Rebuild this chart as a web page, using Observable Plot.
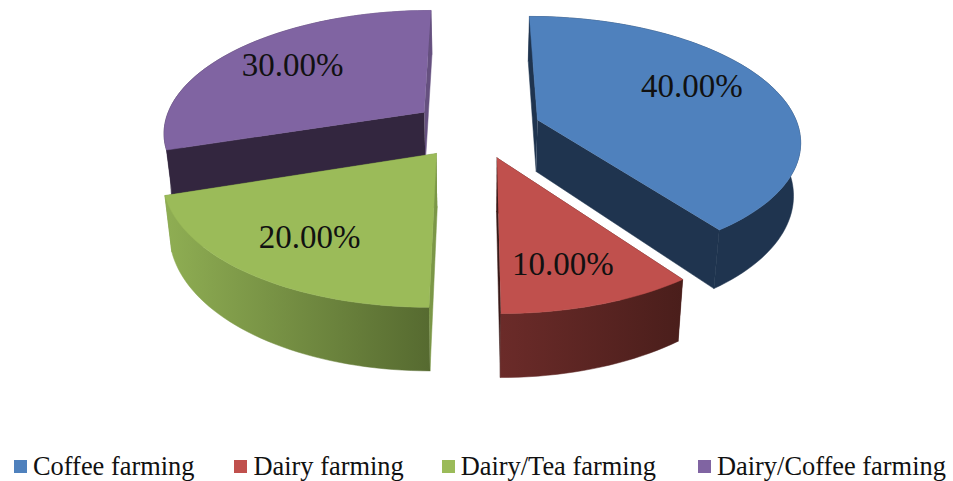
<!DOCTYPE html>
<html><head><meta charset="utf-8">
<script src="https://cdn.jsdelivr.net/npm/d3@7"></script>
<script src="https://cdn.jsdelivr.net/npm/@observablehq/plot@0.6"></script>
<style>
html,body{margin:0;padding:0;background:#fff;overflow:hidden}
#legend{display:flex;padding-left:14px;height:30px;align-items:center;font:26.4px "Liberation Serif",serif;color:#111;white-space:nowrap}
#legend span.item{display:inline-flex;align-items:center;gap:6px}
#legend i{display:inline-block;width:13px;height:13px}
</style></head><body>
<div id="chart"></div><div id="legend"></div>
<script>
const categories = ["Coffee farming", "Dairy farming", "Dairy/Tea farming", "Dairy/Coffee farming"];
const shares = [40, 10, 20, 30];
const colors = ["#4f81bd", "#c0504d", "#9bbb59", "#8064a2"];
const startWallColors = ["#1f344f", "#4a1d1b", "#7b9747", "#33263f"];
const endWallColors = ["#1f344f", "#3a1a18", "#7b9747", "#65507f"];
const wallGradients = [["#1f344f", "#1f344f"], ["#6b2b29", "#4a1e1b"], ["#8fae53", "#566a30"], ["#33263f", "#65507f"]];
const labelRadius = [0.70, 0.75, 0.72, 0.70];
const labelAngle = [65, 164, 215, 307];
const legendGaps = [0, 40, 38, 42];

const W = 953, H = 451;
const cx = 475.5, cy = 128.5, a = 261.5, b = 122, k = 0.153, depth = 52, explodeX = 0.25, explodeY = 0.24, shrink = 0.022;
const project = (X, Y, drop = 0) => { const s = 1 / (1 + k * Y); return {x: cx + a * X * s * (1 - shrink * drop), y: cy - b * Y * s + depth * s * drop}; };

const arcs = d3.pie().sort(null).startAngle(0).endAngle(2 * Math.PI)(shares);
const slices = arcs.map((d, i) => {
  const mid = (d.startAngle + d.endAngle) / 2;
  const ox = explodeX * Math.sin(mid), oy = explodeY * Math.cos(mid);
  const n = Math.round((d.endAngle - d.startAngle) / 0.03);
  const angles = d3.range(n + 1).map(j => d.startAngle + (d.endAngle - d.startAngle) * j / n);
  const rim = (drop) => angles.map(t => project(ox + Math.sin(t), oy + Math.cos(t), drop));
  const center = (drop) => project(ox, oy, drop);
  const edge = (t, drop) => project(ox + Math.sin(t), oy + Math.cos(t), drop);
  const la = labelAngle[i] * Math.PI / 180;
  return {
    i, mid,
    top: [center(0), ...rim(0)],
    arcWall: [...rim(0), ...rim(1).reverse()],
    startWall: [center(0), edge(d.startAngle, 0), edge(d.startAngle, 1), center(1)],
    endWall: [center(0), edge(d.endAngle, 0), edge(d.endAngle, 1), center(1)],
    startFaces: Math.sin(d.startAngle) < -1e-9,
    endFaces: Math.sin(d.endAngle) > 1e-9,
    label: project(ox + labelRadius[i] * Math.sin(la), oy + labelRadius[i] * Math.cos(la)),
    text: shares[i].toFixed(2) + "%"
  };
});

const defs = () => {
  const svg = d3.create("svg:g");
  const d = svg.append("defs");
  wallGradients.forEach((g, i) => {
    const lg = d.append("linearGradient").attr("id", "wall" + i);
    lg.append("stop").attr("offset", "0%").attr("stop-color", g[0]);
    lg.append("stop").attr("offset", "100%").attr("stop-color", g[1]);
  });
  return svg.node();
};
const poly = (pts, fill) => Plot.line(pts, {x: "x", y: "y", fill, stroke: fill, strokeWidth: 0.5, curve: "linear"});

const drawOrder = [3, 0, 2, 1];
const marks = [defs];
for (const i of drawOrder) {
  const s = slices[i];
  const start = poly(s.startWall, startWallColors[i]);
  const end = poly(s.endWall, endWallColors[i]);
  if (!s.startFaces) marks.push(start);
  if (!s.endFaces) marks.push(end);
  marks.push(poly(s.arcWall, `url(#wall${i})`));
  if (s.startFaces) marks.push(start);
  if (s.endFaces) marks.push(end);
  marks.push(poly(s.top, colors[i]));
}
marks.push(Plot.text(slices, {x: d => d.label.x, y: d => d.label.y, text: "text", fontSize: 33, fill: "#111", fontFamily: "Liberation Serif", textAnchor: "middle", lineAnchor: "middle"}));

const chart = Plot.plot({
  width: W, height: H, margin: 0,
  x: {domain: [0, W], axis: null},
  y: {domain: [H, 0], axis: null},
  marks
});
chart.style.display = "block";
document.getElementById("chart").append(chart);

const legend = d3.select("#legend");
categories.forEach((c, i) => {
  const item = legend.append("span").attr("class", "item").style("margin-left", legendGaps[i] + "px");
  item.append("i").style("background", colors[i]);
  item.append("span").text(c);
});
</script></body></html>
